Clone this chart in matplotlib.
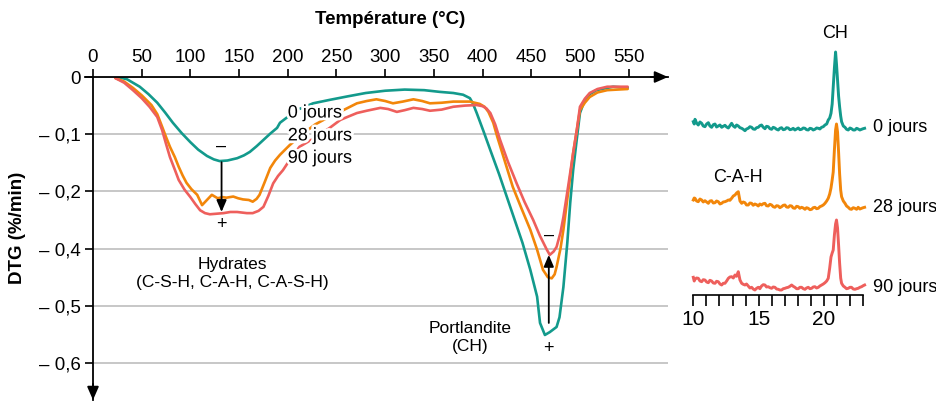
import numpy as np
import matplotlib
matplotlib.use("Agg")
import matplotlib.pyplot as plt
import matplotlib.patheffects as pe

plt.rcParams['font.family'] = ['Liberation Sans', 'DejaVu Sans']

# ---------------- DTG data (temperature in °C, DTG in %/min) ----------------
t_0j = [25, 35, 48, 57, 66, 74, 82, 91, 100, 108, 117, 124, 130, 138, 148, 155, 161, 168, 175,
        182, 189, 192, 209, 226, 243, 261, 280, 300, 320, 340, 356, 370, 380, 387, 390, 394, 401,
        408, 417, 425, 433, 441, 449, 456, 459, 464, 469, 476, 479, 483, 487, 490, 493, 497, 500,
        505, 510, 517, 534, 549]
dtg_0j = [0.0, -0.004, -0.017, -0.030, -0.045, -0.062, -0.080, -0.098, -0.114, -0.127, -0.138,
          -0.144, -0.147, -0.146, -0.142, -0.137, -0.131, -0.121, -0.110, -0.099, -0.089, -0.080,
          -0.058, -0.046, -0.040, -0.034, -0.028, -0.024, -0.022, -0.023, -0.026, -0.028, -0.031,
          -0.037, -0.046, -0.063, -0.095, -0.128, -0.170, -0.210, -0.250, -0.290, -0.337, -0.384,
          -0.430, -0.451, -0.446, -0.437, -0.420, -0.367, -0.290, -0.220, -0.163, -0.105, -0.063,
          -0.040, -0.030, -0.023, -0.017, -0.019]

t_28j = [23, 32, 41, 50, 60, 66, 71, 75, 79, 84, 88, 92, 96, 101, 107, 112, 117, 122, 128, 133,
         137, 144, 149, 154, 160, 164, 168, 171, 176, 182, 187, 192, 202, 215, 228, 240, 250, 257,
         264, 271, 281, 291, 300, 308, 318, 329, 338, 346, 358, 370, 387, 397, 402, 406, 411, 415,
         423, 431, 440, 449, 456, 462, 467, 471, 474, 476, 480, 483, 488, 493, 497, 500, 505, 510,
         518, 528, 549]
dtg_28j = [-0.002, -0.008, -0.019, -0.032, -0.049, -0.065, -0.087, -0.105, -0.122, -0.140, -0.157,
           -0.172, -0.185, -0.196, -0.206, -0.224, -0.215, -0.206, -0.212, -0.210, -0.211, -0.209,
           -0.212, -0.214, -0.215, -0.218, -0.213, -0.206, -0.185, -0.159, -0.146, -0.136, -0.119,
           -0.100, -0.083, -0.072, -0.064, -0.058, -0.052, -0.046, -0.042, -0.039, -0.042, -0.046,
           -0.043, -0.039, -0.042, -0.046, -0.045, -0.043, -0.043, -0.047, -0.052, -0.061, -0.080,
           -0.104, -0.148, -0.192, -0.230, -0.267, -0.302, -0.337, -0.350, -0.352, -0.345, -0.332,
           -0.300, -0.267, -0.200, -0.133, -0.090, -0.058, -0.045, -0.035, -0.027, -0.023, -0.021]

t_90j = [23, 32, 41, 50, 58, 66, 71, 75, 79, 84, 88, 94, 100, 105, 110, 115, 120, 127, 134, 141,
         148, 153, 158, 164, 170, 175, 180, 185, 190, 195, 202, 212, 226, 243, 254, 261, 271, 281,
         295, 303, 312, 320, 329, 338, 346, 358, 370, 382, 394, 400, 404, 408, 413, 418, 426, 435,
         443, 452, 459, 466, 469, 473, 476, 480, 483, 488, 493, 497, 500, 505, 510, 518, 528, 549]
dtg_90j = [-0.002, -0.010, -0.023, -0.037, -0.052, -0.070, -0.093, -0.117, -0.140, -0.162, -0.180,
           -0.197, -0.210, -0.222, -0.233, -0.238, -0.240, -0.239, -0.238, -0.236, -0.236, -0.237,
           -0.238, -0.238, -0.234, -0.227, -0.208, -0.186, -0.173, -0.163, -0.145, -0.122, -0.108,
           -0.089, -0.075, -0.070, -0.063, -0.059, -0.054, -0.056, -0.061, -0.058, -0.054, -0.056,
           -0.059, -0.057, -0.052, -0.050, -0.049, -0.051, -0.055, -0.063, -0.083, -0.110, -0.148,
           -0.186, -0.218, -0.250, -0.278, -0.302, -0.311, -0.305, -0.297, -0.272, -0.245, -0.190,
           -0.133, -0.090, -0.052, -0.038, -0.028, -0.021, -0.017, -0.017]

x_ticks = [0, 50, 100, 150, 200, 250, 300, 350, 400, 450, 500, 550]
y_ticks = [0, -0.1, -0.2, -0.3, -0.4, -0.5]
y_ticklabels = ["0", "\u2013 0,1", "\u2013 0,2", "\u2013 0,4", "\u2013 0,5", "\u2013 0,6"]
series_labels = ["0 jours", "28 jours", "90 jours"]

# ---------------- XRD data (2theta in degrees, relative intensity) ----------------
two_theta = [
    10.0, 10.07, 10.13, 10.25, 10.38, 10.51, 10.64, 10.76, 10.89, 11.02,
    11.15, 11.27, 11.40, 11.53, 11.66, 11.78, 11.91, 12.04, 12.17, 12.29,
    12.42, 12.55, 12.68, 12.80, 12.93, 13.06, 13.19, 13.31, 13.44, 13.57,
    13.70, 13.82, 13.95, 14.07, 14.20, 14.33, 14.46, 14.58, 14.71, 14.84,
    14.97, 15.09, 15.22, 15.35, 15.48, 15.60, 15.73, 15.86, 15.99, 16.11,
    16.24, 16.37, 16.50, 16.62, 16.75, 16.88, 17.01, 17.13, 17.26, 17.39,
    17.52, 17.64, 17.77, 17.90, 18.03, 18.15, 18.28, 18.41, 18.54, 18.66,
    18.79, 18.92, 19.05, 19.17, 19.30, 19.43, 19.56, 19.68, 19.81, 19.94,
    20.07, 20.20, 20.32, 20.43, 20.53, 20.62, 20.70, 20.79, 20.88, 20.95,
    21.03, 21.11, 21.19, 21.27, 21.34, 21.47, 21.60, 21.72, 21.85, 21.98,
    22.10, 22.23, 22.36, 22.49, 22.61, 22.74, 22.87, 22.99, 23.10]
i_0j = [
    8.3, 6.0, 10.7, 7.0, 5.0, 8.0, 6.7, 4.0, 3.3, 6.0,
    7.3, 4.0, 2.7, 5.3, 6.0, 3.0, 4.0, 5.0, 2.7, 3.7,
    4.7, 3.0, 2.0, 4.3, 6.7, 4.0, 2.7, 5.0, 4.0, 2.3,
    1.7, 0.7, -0.7, 1.0, 1.7, 3.3, 2.7, 1.0, 0.7, 2.3,
    2.7, 4.3, 5.0, 2.7, 1.3, 3.7, 3.3, 1.3, 0.7, 2.7,
    2.0, 0.7, 0.0, 1.7, 2.3, 0.3, 0.7, 2.3, 2.0, 0.3,
    0.7, 1.7, 0.0, 1.0, 2.0, 0.3, 0.7, 2.0, 1.7, 0.3,
    0.0, 1.7, 1.3, 0.0, 0.7, 2.0, 1.7, 1.0, 2.7, 3.3,
    5.0, 6.0, 10.0, 12.0, 16.7, 26.0, 43.0, 62.0, 78.0, 66.0,
    50.0, 34.0, 23.0, 14.0, 8.3, 4.0, 2.7, 0.7, 0.0, 2.0,
    1.3, 0.0, 0.0, 1.7, 1.0, 0.0, 0.7, 1.3, 1.7]
i_28j = [
    10.0, 12.0, 11.7, 9.0, 8.3, 11.0, 10.0, 8.0, 9.3, 8.0,
    6.7, 9.0, 9.3, 7.0, 7.3, 9.0, 8.3, 6.0, 6.7, 8.0,
    8.3, 9.0, 10.0, 9.7, 11.7, 14.0, 15.0, 17.0, 18.3, 9.0,
    6.7, 8.0, 7.3, 5.0, 5.0, 7.0, 6.7, 4.7, 6.0, 5.3,
    4.0, 6.0, 5.0, 6.3, 6.7, 4.3, 4.0, 5.7, 5.0, 3.3,
    2.7, 4.3, 4.0, 2.3, 3.3, 4.7, 5.0, 3.0, 2.7, 4.3,
    4.0, 2.0, 1.7, 3.7, 3.3, 1.7, 2.7, 2.0, 0.7, 2.3,
    1.7, 0.3, 0.7, 2.3, 2.7, 1.3, 1.7, 3.3, 4.0, 5.0,
    6.7, 9.0, 11.7, 16.0, 22.0, 30.0, 38.0, 60.0, 80.0, 86.0,
    78.0, 58.0, 36.0, 20.0, 13.3, 9.0, 6.7, 4.0, 2.7, 1.0,
    0.7, 2.3, 1.7, 0.7, 2.7, 1.0, 1.7, 2.3, 2.7]
i_90j = [
    12.7, 9.0, 10.7, 12.0, 11.7, 9.0, 8.3, 10.3, 10.0, 8.0,
    7.3, 9.7, 9.0, 7.0, 6.7, 8.7, 8.3, 6.0, 5.0, 6.7,
    6.7, 9.0, 11.7, 13.0, 13.3, 12.0, 15.0, 13.7, 18.3, 10.0,
    6.7, 5.7, 5.0, 6.0, 4.0, 2.0, 2.7, 1.0, 0.0, 1.7,
    2.7, 1.3, 4.0, 5.3, 5.0, 3.0, 3.3, 2.3, 1.7, 3.0,
    2.7, 1.0, 0.7, 0.0, 0.0, 1.3, 1.7, 2.3, 2.7, 3.7,
    5.0, 3.7, 2.7, 1.3, 1.3, 2.7, 2.7, 1.3, 0.7, 2.0,
    2.7, 1.3, 1.7, 3.0, 3.3, 2.0, 2.7, 4.0, 5.0, 6.0,
    7.3, 9.0, 11.7, 22.0, 33.0, 37.0, 40.0, 55.0, 66.0, 70.0,
    62.0, 45.0, 26.7, 12.0, 6.7, 4.0, 2.7, 1.3, 1.7, 2.7,
    2.7, 1.0, 0.7, 1.3, 1.7, 2.7, 3.3, 4.3, 5.0]

xrd_ticks = [10, 15, 20]

colors = ["#139a8c", "#f2860a", "#ee5f5c"]
lw = 1.9

fig = plt.figure(figsize=(9.37, 4.03), dpi=100)

# ---------------- Main DTG axes ----------------
W, H = 937.0, 403.0
ax = fig.add_axes([93 / W, 1 - 400 / H, 575 / W, 323 / H])
ax.set_xlim(0, 590.4)
ax.set_ylim(-0.5647, 0)

for s in ["right", "bottom"]:
    ax.spines[s].set_visible(False)
for s in ["top", "left"]:
    ax.spines[s].set_linewidth(1.3)
    ax.spines[s].set_zorder(5)

ax.xaxis.tick_top()
ax.set_xticks(x_ticks)
ax.set_xticklabels([str(v) for v in x_ticks])
ax.set_yticks(y_ticks)
ax.set_yticklabels(y_ticklabels)
ax.tick_params(axis="x", direction="out", length=6, width=1.2, pad=2, labelsize=13.5)
ax.tick_params(axis="y", direction="out", length=6, width=1.2, pad=3, labelsize=13.5)
ax.yaxis.grid(True, color="#b8b8b8", lw=1.1)
ax.set_axisbelow(True)

# axis arrows
ax.plot([-0.014, 0], [1, 1], transform=ax.transAxes, color="k", lw=1.3, clip_on=False)
ax.annotate("", xy=(1.0, 1.0), xytext=(0.97, 1.0), xycoords="axes fraction",
            arrowprops=dict(arrowstyle="-|>,head_length=0.8,head_width=0.35", color="k", lw=1.3,
                            shrinkA=0, shrinkB=0))
ax.annotate("", xy=(0.0, 0.0), xytext=(0.0, 0.05), xycoords="axes fraction",
            arrowprops=dict(arrowstyle="-|>,head_length=0.8,head_width=0.35", color="k", lw=1.3,
                            shrinkA=0, shrinkB=0))

ax.plot(t_0j, dtg_0j, color=colors[0], lw=lw, zorder=3, solid_capstyle="round")
ax.plot(t_28j, dtg_28j, color=colors[1], lw=lw, zorder=3, solid_capstyle="round")
ax.plot(t_90j, dtg_90j, color=colors[2], lw=lw, zorder=3, solid_capstyle="round")

halo = [pe.withStroke(linewidth=4, foreground="white")]
for lab, yy in zip(series_labels, [-0.063, -0.103, -0.142]):
    ax.text(200, yy, lab, fontsize=13, ha="left", va="center", zorder=6, path_effects=halo)

# hydrates annotation
ax.text(132, -0.121, "\u2013", fontsize=13, ha="center", va="center")
ax.annotate("", xy=(132, -0.236), xytext=(132, -0.149),
            arrowprops=dict(arrowstyle="-|>,head_length=0.7,head_width=0.3", color="k", lw=1.3,
                            shrinkA=0, shrinkB=0), zorder=6)
ax.text(132, -0.257, "+", fontsize=13, ha="center", va="center")
ax.text(143, -0.344, "Hydrates\n(C-S-H, C-A-H, C-A-S-H)", fontsize=12.5, ha="center",
        va="center", linespacing=1.25)

# portlandite annotation
ax.text(468, -0.276, "\u2013", fontsize=13, ha="center", va="center")
ax.annotate("", xy=(468, -0.311), xytext=(468, -0.430),
            arrowprops=dict(arrowstyle="-|>,head_length=0.7,head_width=0.3", color="k", lw=1.3,
                            shrinkA=0, shrinkB=0), zorder=6)
ax.text(468, -0.474, "+", fontsize=13, ha="center", va="center")
ax.text(387, -0.456, "Portlandite\n(CH)", fontsize=12.5, ha="center", va="center",
        linespacing=1.25)

fig.text(390 / W, 1 - 20 / H, "Température (°C)", ha="center", va="center",
         fontsize=13.5, fontweight="bold")
fig.text(18 / W, 1 - 228 / H, "DTG (%/min)", ha="center", va="center", rotation=90,
         fontsize=13.5, fontweight="bold")

# ---------------- XRD inset ----------------
ax2 = fig.add_axes([693.3 / W, 1 - 295 / H, 170 / W, 250 / H])
ax2.set_xlim(10, 23)
ax2.set_ylim(0, 250)
for s in ["left", "right", "top"]:
    ax2.spines[s].set_visible(False)
ax2.spines["bottom"].set_linewidth(1.2)
ax2.set_yticks([])
ax2.set_xticks(xrd_ticks)
ax2.set_xticklabels([str(v) for v in xrd_ticks])
ax2.set_xticks(list(range(10, 24)), minor=True)
ax2.tick_params(axis="x", which="both", direction="out", length=8, width=1.2, labelsize=15,
                pad=3)
ax2.patch.set_alpha(0)

offsets = [165, 85, 5]
for ii, c, off in zip([i_0j, i_28j, i_90j], colors, offsets):
    ax2.plot(two_theta, np.array(ii) + off, color=c, lw=2.1, clip_on=False,
             solid_joinstyle="round")

for lab, yy in zip(series_labels, [167, 88, 8]):
    ax2.text(23.74, yy, lab, fontsize=13, ha="left", va="center", clip_on=False)
ax2.text(20.83, 262, "CH", fontsize=13, ha="center", va="center", clip_on=False)
ax2.text(13.42, 117, "C-A-H", fontsize=13, ha="center", va="center", clip_on=False)

fig.savefig("out.png", dpi=100)
